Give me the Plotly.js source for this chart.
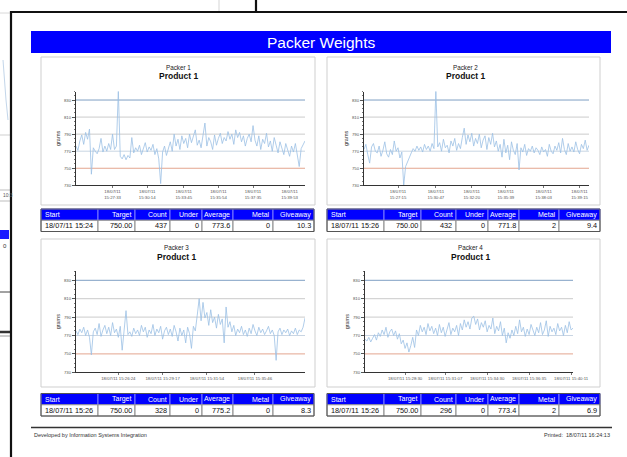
<!DOCTYPE html>
<html><head><meta charset="utf-8">
<script src="https://cdn.plot.ly/plotly-3.0.1.min.js"></script>
<style>html,body{margin:0;padding:0;background:#fff;overflow:hidden}#chart{width:627px;height:457px}</style>
</head><body><div id="chart"></div>
<script>
// ---------------- DATA ----------------
const reportTitle = 'Packer Weights';
const packerNames = ['Packer 1', 'Packer 2', 'Packer 3', 'Packer 4'];
const productNames = ['Product 1', 'Product 1', 'Product 1', 'Product 1'];

const packer1 = [776,771,782,789,778,792,784,796,743,774,
  770,767,773,785,769,776,770,779,772,790,
  772,776,841,764,761,766,760,765,762,786,
  768,774,770,777,766,773,780,769,775,771,
  778,766,773,761,732,769,776,765,772,781,
  770,790,776,784,772,788,779,785,774,790,
  780,787,795,777,783,774,789,803,776,786,
  781,772,789,777,785,791,779,786,782,793,
  784,790,778,795,786,792,781,788,776,785,
  790,781,800,783,776,788,772,784,779,791,
  775,782,770,786,777,768,781,773,766,779,
  771,764,776,769,779,767,752,773,778,782];

const packer2 = [772,778,766,756,775,779,770,768,776,764,
  771,781,767,763,772,766,782,770,774,762,
  769,730,752,758,762,768,773,770,776,771,
  775,769,778,772,776,770,779,773,841,775,
  780,770,784,774,777,768,782,776,785,771,
  779,773,786,797,778,789,781,791,776,785,
  779,790,774,783,788,772,786,778,791,775,
  782,770,778,763,784,768,777,760,781,771,
  766,779,748,774,769,778,765,773,770,776,
  768,774,771,766,775,769,772,764,778,770,
  767,776,771,780,768,785,772,766,779,770,
  775,769,781,772,767,778,773,783,771,777];

const packer3 = [775,771,777,773,779,770,776,768,749,774,
  778,771,783,769,776,781,772,779,770,784,
  773,777,768,780,754,775,797,771,774,769,
  778,772,776,770,781,774,779,768,776,772,
  782,770,777,773,780,766,775,779,771,777,
  769,781,774,764,778,770,776,762,779,772,
  756,780,775,792,810,786,806,789,795,781,
  798,784,790,778,793,782,788,762,801,779,
  785,774,781,770,777,773,780,771,776,769,
  778,772,782,775,770,779,773,777,771,775,
  780,772,776,770,743,774,778,771,776,773,
  777,770,775,772,778,771,776,774,779,789];

const packer4 = [766,764,768,763,767,771,765,773,769,776,
  771,779,768,774,777,770,775,766,772,761,
  765,756,762,752,759,768,757,776,770,781,
  774,779,771,783,775,780,772,778,770,782,
  773,779,769,777,784,771,778,774,781,770,
  783,776,787,779,785,777,789,791,782,788,
  776,784,779,786,774,781,777,789,772,780,
  775,785,770,778,762,773,767,776,770,780,
  772,787,774,779,769,777,771,782,775,770,
  779,773,784,771,776,786,769,780,774,778,
  771,783,775,779,770,781,773,785,776,778];

// x tick labels (sample index where the label sits, label text)
const tickIdx1 = [19, 37, 56, 74, 92, 111];
const tickLbl1 = ['18/07/11<br>15:27:33','18/07/11<br>15:30:14','18/07/11<br>15:33:45','18/07/11<br>15:35:54','18/07/11<br>15:37:35','18/07/11<br>15:39:53'];
const tickIdx2 = [18, 38, 57, 75, 95, 114];
const tickLbl2 = ['18/07/11<br>15:27:15','18/07/11<br>15:30:47','18/07/11<br>15:32:20','18/07/11<br>15:35:39','18/07/11<br>15:38:03','18/07/11<br>15:39:15'];
const tickIdx3 = [22, 45, 68, 93];
const tickLbl3 = ['18/07/11 15:26:24','18/07/11 15:29:17','18/07/11 15:31:54','18/07/11 15:35:46'];
const tickIdx4 = [21, 42, 64, 86, 108];
const tickLbl4 = ['18/07/11 15:28:30','18/07/11 15:31:07','18/07/11 15:34:30','18/07/11 15:36:35','18/07/11 15:40:11'];

// reference limit lines (grams)
const limitValues = [750, 770, 790, 810, 830];

// summary tables
const tableHeaders = ['Start','Target','Count','Under','Average','Metal','Giveaway'];
const table1 = ['18/07/11 15:24','750.00','437','0','773.6','0','10.3'];
const table2 = ['18/07/11 15:26','750.00','432','0','771.8','2','9.4'];
const table3 = ['18/07/11 15:26','750.00','328','0','775.2','0','8.3'];
const table4 = ['18/07/11 15:26','750.00','296','0','773.4','2','6.9'];

const footerLeft = 'Developed by Information Systems Integration';
const footerRight = 'Printed:  18/07/11 16:24:13';

// ---------------- LAYOUT / STYLE ----------------
const W = 627, H = 457;
const PX = x => x / W, PY = y => 1 - y / H;
const FONT = 'Liberation Sans, Arial, sans-serif';
const limitColors = ['#e3a58f', '#c9d5e3', '#cbcbcb', '#cbcbcb', '#7f9fc4'];

const panels = [
  {box:[41,57,315,205], plot:[76,305,91.5,185.3], tx:178, ty:[67,75.7], tbl:[41,209]},
  {box:[327,57,600,205], plot:[364,589,91.5,185.3], tx:465, ty:[67,75.7], tbl:[327,209]},
  {box:[41,239,315,387], plot:[76,305,271.1,372.3], tx:176, ty:[247,256.7], tbl:[41,393.5]},
  {box:[327,239,600,387], plot:[365,573,271.1,372.3], tx:470, ty:[247,256.7], tbl:[327,393.5]}
];
const series = [packer1, packer2, packer3, packer4];
const tickIdx = [tickIdx1, tickIdx2, tickIdx3, tickIdx4];
const tickLbl = [tickLbl1, tickLbl2, tickLbl3, tickLbl4];
const tables = [table1, table2, table3, table4];
const colWidths = [57, 37, 35, 32, 31, 40, 41];
const rowH = 11.25;

const traces = [];
const shapes = [];
const annotations = [];
const layout = {
  width: W, height: H, margin: {l:0, r:0, t:0, b:0, pad:0},
  paper_bgcolor: '#fff', plot_bgcolor: 'rgba(0,0,0,0)',
  showlegend: false, font: {family: FONT, color: '#222'},
  shapes: shapes, annotations: annotations
};

panels.forEach((p, k) => {
  const s = k === 0 ? '' : String(k + 1);
  const data = series[k];
  traces.push({
    x: data.map((_, i) => i), y: data, xaxis: 'x' + s, yaxis: 'y' + s,
    type: 'scatter', mode: 'lines', line: {color: '#9cc0e4', width: 0.8},
    hoverinfo: 'skip'
  });
  layout['xaxis' + s] = {
    domain: [PX(p.plot[0]), PX(p.plot[1])], anchor: 'y' + s,
    range: [0, data.length - 1], showgrid: false, zeroline: false,
    showline: true, linecolor: '#333', linewidth: 1,
    tickmode: 'array', tickvals: tickIdx[k], ticktext: tickLbl[k],
    ticks: 'outside', ticklen: 2, tickcolor: '#777',
    tickfont: {size: 4.3, color: '#555', family: FONT}, fixedrange: true
  };
  layout['yaxis' + s] = {
    domain: [PY(p.plot[3]), PY(p.plot[2])], anchor: 'x' + s,
    range: [730, 840], showgrid: false, zeroline: false,
    showline: true, linecolor: '#333', linewidth: 1,
    tick0: 730, dtick: 20, ticks: 'outside', ticklen: 3, tickcolor: '#555',
    minor: {dtick: 5, ticks: 'outside', ticklen: 1.5, tickcolor: '#777'},
    tickfont: {size: 4.3, color: '#555', family: FONT},
    title: {text: 'grams', font: {size: 5.5, color: '#333', family: FONT}, standoff: 3},
    fixedrange: true
  };
  // limit lines
  limitValues.forEach((v, j) => shapes.push({
    type: 'line', xref: 'x' + s + ' domain', yref: 'y' + s, x0: 0, x1: 1, y0: v, y1: v,
    line: {color: limitColors[j], width: 1}, layer: 'below'
  }));
  // panel frame
  shapes.push({type:'rect', xref:'paper', yref:'paper', x0:PX(p.box[0]), x1:PX(p.box[2]),
    y0:PY(p.box[3]), y1:PY(p.box[1]), line:{color:'#cfcfcf', width:1}, layer:'below'});
  annotations.push({xref:'paper', yref:'paper', x:PX(p.tx), y:PY(p.ty[0]), text:packerNames[k],
    showarrow:false, xanchor:'center', yanchor:'middle', font:{size:6.3, color:'#222'}});
  annotations.push({xref:'paper', yref:'paper', x:PX(p.tx), y:PY(p.ty[1]), text:'<b>' + productNames[k] + '</b>',
    showarrow:false, xanchor:'center', yanchor:'middle', font:{size:8.5, color:'#111'}});
  // table
  let x = p.tbl[0];
  const top = p.tbl[1];
  colWidths.forEach((w, c) => {
    shapes.push({type:'rect', xref:'paper', yref:'paper', x0:PX(x), x1:PX(x + w),
      y0:PY(top + rowH), y1:PY(top), fillcolor:'#0000ff', line:{color:'#7d7dff', width:1}});
    shapes.push({type:'rect', xref:'paper', yref:'paper', x0:PX(x), x1:PX(x + w),
      y0:PY(top + 2 * rowH), y1:PY(top + rowH), fillcolor:'#ffffff', line:{color:'#8a8a8a', width:1}});
    const left = c === 0;
    annotations.push({xref:'paper', yref:'paper', x:PX(left ? x + 1.5 : x + w - 1.2), y:PY(top + rowH / 2),
      text: tableHeaders[c], showarrow:false, xanchor: left ? 'left' : 'right', yanchor:'middle',
      font:{size:7, color:'#fff'}});
    annotations.push({xref:'paper', yref:'paper', x:PX(left ? x + 1.5 : x + w - 1.5), y:PY(top + rowH * 1.5),
      text: tables[k][c], showarrow:false, xanchor: left ? 'left' : 'right', yanchor:'middle',
      font:{size:7.3, color:'#111'}});
    x += w;
  });
  shapes.push({type:'rect', xref:'paper', yref:'paper', x0:PX(p.tbl[0]), x1:PX(x),
    y0:PY(top + 2 * rowH), y1:PY(top), line:{color:'#555', width:1}});
});

// title bar
shapes.push({type:'rect', xref:'paper', yref:'paper', x0:PX(31), x1:PX(611), y0:PY(53), y1:PY(31),
  fillcolor:'#0000ff', line:{width:0}});
annotations.push({xref:'paper', yref:'paper', x:PX(321), y:PY(42.5), text:reportTitle, showarrow:false,
  xanchor:'center', yanchor:'middle', font:{size:15.5, color:'#fff'}});

// footer
shapes.push({type:'line', xref:'paper', yref:'paper', x0:PX(31), x1:PX(612), y0:PY(427.5), y1:PY(427.5),
  line:{color:'#333', width:1.5}});
annotations.push({xref:'paper', yref:'paper', x:PX(32), y:PY(434.5), text:footerLeft, showarrow:false,
  xanchor:'left', yanchor:'middle', font:{size:5.5, color:'#333'}});
annotations.push({xref:'paper', yref:'paper', x:PX(612), y:PY(434.5), text:footerRight, showarrow:false,
  xanchor:'right', yanchor:'middle', font:{size:5.5, color:'#333'}});

// background window fragments on the left / top
const frag = [
  {type:'line', x0:0, x1:10, y0:135, y1:135, line:{color:'#cfcfcf', width:1}},
  {type:'line', x0:0, x1:10, y0:190, y1:190, line:{color:'#bdbdbd', width:1}},
  {type:'line', x0:0, x1:10, y0:201, y1:201, line:{color:'#bdbdbd', width:1}},
  {type:'rect', x0:0, x1:9, y0:230, y1:239, fillcolor:'#1a1aff', line:{width:0}},
  {type:'line', x0:0, x1:10, y0:292, y1:292, line:{color:'#444', width:1}},
  {type:'line', x0:0, x1:10, y0:332, y1:332, line:{color:'#333', width:2.5}},
  {type:'line', x0:0, x1:10, y0:336, y1:336, line:{color:'#ccc', width:2}},
  {type:'line', x0:3, x1:6, y0:60, y1:100, line:{color:'#c3d6ea', width:1}},
  {type:'line', x0:6, x1:8, y0:100, y1:120, line:{color:'#c3d6ea', width:1}},
  {type:'line', x0:219, x1:219, y0:0, y1:11, line:{color:'#d5d5d5', width:1}},
  {type:'line', x0:0, x1:11, y0:13, y1:13, line:{color:'#d8d8d8', width:1}},
  // page frame
  {type:'line', x0:11, x1:11, y0:11, y1:457, line:{color:'#111', width:2.2}},
  {type:'line', x0:10, x1:627, y0:12, y1:12, line:{color:'#111', width:2.2}},
  {type:'line', x0:256, x1:256, y0:0, y1:12, line:{color:'#111', width:2.2}}
];
frag.forEach(f => shapes.push(Object.assign({}, f, {xref:'paper', yref:'paper',
  x0:PX(f.x0), x1:PX(f.x1), y0:PY(f.y0), y1:PY(f.y1)})));
annotations.push({xref:'paper', yref:'paper', x:PX(0.5), y:PY(196), text:'10:3', showarrow:false,
  xanchor:'left', yanchor:'middle', font:{size:4.8, color:'#555'}});
annotations.push({xref:'paper', yref:'paper', x:PX(9), y:PY(246), text:'0', showarrow:false,
  xanchor:'right', yanchor:'middle', font:{size:6, color:'#333'}});

Plotly.newPlot('chart', traces, layout, {displayModeBar:false, staticPlot:true});
</script></body></html>
